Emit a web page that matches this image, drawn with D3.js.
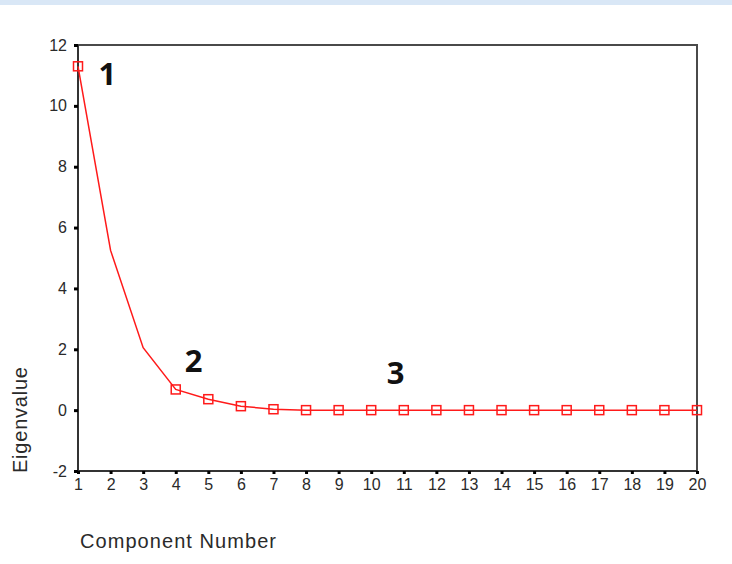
<!DOCTYPE html>
<html>
<head>
<meta charset="utf-8">
<script src="https://cdn.jsdelivr.net/npm/d3@7"></script>
<style>
  body { margin: 0; background: #fff; }
  svg { display: block; }
  .tick text { font-family: "Liberation Sans", Arial, sans-serif; font-size: 16px; fill: #2a2a2a; }
  .axisLabel { font-family: "Liberation Sans", Arial, sans-serif; font-size: 20px; fill: #2a2a2a; }
  .note { font-family: "Noto Sans", "Open Sans", sans-serif; font-weight: bold; font-size: 31px; fill: #111; }
</style>
</head>
<body>
<div id="chart"></div>
<script>

// data
const components = d3.range(1, 21)
const eigenvalues = [11.3, 5.25, 2.05, 0.68, 0.36, 0.13, 0.03, 0, 0, 0, 0, 0, 0, 0, 0, 0, 0, 0, 0, 0]
const showMarker = [true, false, false, true, true, true, true, true, true, true, true, true, true, true, true, true, true, true, true, true]
const yTicks = [-2, 0, 2, 4, 6, 8, 10, 12]
const notes = [
  { label: "1", comp: 1.9, val: 10.7 },
  { label: "2", comp: 4.55, val: 1.25 },
  { label: "3", comp: 10.75, val: 0.85 }
]

const width = 732, height = 564
const margin = { top: 45, right: 35, bottom: 93, left: 78 }

const svg = d3.select("#chart").append("svg")
  .attr("width", width)
  .attr("height", height)

// faint blue strip along the top edge
svg.append("rect")
  .attr("x", 0).attr("y", 0)
  .attr("width", width).attr("height", 5)
  .style("fill", "#d9e7f6")

let x = d3.scaleLinear()
  .domain([1, 20])
  .range([margin.left, width - margin.right])

let y = d3.scaleLinear()
  .domain([-2, 12])
  .range([height - margin.bottom, margin.top])

// frame: top and right
svg.append("path")
  .attr("d", `M${x(1)},${y(12)}H${x(20)}V${y(-2)}`)
  .style("fill", "none")
  .style("stroke", "#4a4a4a")
  .style("stroke-width", 2)

// plain hyphen for negatives, like the original
const fmt = d => String(d)

let yAxis = d3.axisLeft(y)
  .tickValues(yTicks)
  .tickSize(4)
  .tickPadding(7)
  .tickFormat(fmt)

let xAxis = d3.axisBottom(x)
  .tickValues(components)
  .tickSize(3)
  .tickPadding(5)
  .tickFormat(fmt)

let gy = svg.append("g")
  .attr("transform", `translate(${margin.left},0)`)
  .call(yAxis)
gy.select(".domain").attr("d", `M0,${y(12)}V${y(-2)}`).style("stroke", "#333").style("stroke-width", 2)
gy.selectAll(".tick line").style("stroke", "#000").style("stroke-width", 3)

let gx = svg.append("g")
  .attr("transform", `translate(0,${height - margin.bottom})`)
  .call(xAxis)
gx.select(".domain").attr("d", `M${x(1)},0H${x(20)}`).style("stroke", "#333").style("stroke-width", 2)
gx.selectAll(".tick line").style("stroke", "#000").style("stroke-width", 3)

// scree line
const pts = components.map((c, i) => ({ c: c, v: eigenvalues[i], m: showMarker[i] }))

svg.append("path")
  .datum(pts)
  .attr("d", d3.line().x(d => x(d.c)).y(d => y(d.v)))
  .style("fill", "none")
  .style("stroke", "#ff1a1a")
  .style("stroke-width", 1.5)

svg.selectAll("rect.marker")
  .data(pts.filter(d => d.m))
  .enter()
  .append("rect")
  .attr("class", "marker")
  .attr("x", d => x(d.c) - 4.5)
  .attr("y", d => y(d.v) - 4.5)
  .attr("width", 9)
  .attr("height", 9)
  .style("fill", "none")
  .style("stroke", "#ff1a1a")
  .style("stroke-width", 1.5)

// numbered notes
svg.selectAll("text.note")
  .data(notes)
  .enter()
  .append("text")
  .attr("class", "note")
  .attr("x", d => x(d.comp))
  .attr("y", d => y(d.val))
  .style("text-anchor", "middle")
  .text(d => d.label)

// axis titles
svg.append("text")
  .attr("class", "axisLabel")
  .attr("transform", "translate(27,420) rotate(-90)")
  .style("text-anchor", "middle")
  .attr("textLength", 106)
  .text("Eigenvalue")

svg.append("text")
  .attr("class", "axisLabel")
  .attr("x", 80)
  .attr("y", 548)
  .attr("textLength", 196)
  .text("Component Number")

</script>
</body>
</html>
